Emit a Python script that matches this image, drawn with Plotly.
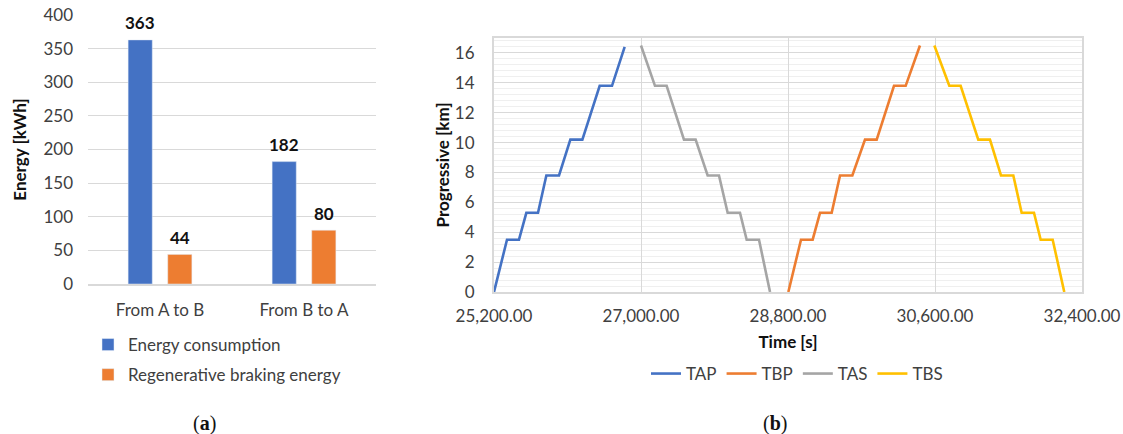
import plotly.graph_objects as go

# ---------------- data ----------------
routes = ["From A to B", "From B to A"]
energy_consumption = [363, 182]
regen_braking = [44, 80]

tap_t = [25200, 25359, 25506, 25596, 25739, 25841, 25996, 26135, 26282, 26494, 26645, 26800]
tap_km = [0, 3.5, 3.5, 5.3, 5.3, 7.8, 7.8, 10.2, 10.2, 13.8, 13.8, 16.4]

tas_t = [27000, 27171, 27314, 27526, 27669, 27816, 27955, 28061, 28212, 28294, 28445, 28580]
tas_km = [16.5, 13.8, 13.8, 10.2, 10.2, 7.8, 7.8, 5.3, 5.3, 3.5, 3.5, 0]

tbp_t = [28804, 28959, 29102, 29192, 29335, 29437, 29588, 29743, 29886, 30098, 30241, 30416]
tbp_km = [0, 3.5, 3.5, 5.3, 5.3, 7.8, 7.8, 10.2, 10.2, 13.8, 13.8, 16.5]

tbs_t = [30592, 30775, 30914, 31130, 31273, 31408, 31559, 31661, 31812, 31894, 32041, 32183]
tbs_km = [16.5, 13.8, 13.8, 10.2, 10.2, 7.8, 7.8, 5.3, 5.3, 3.5, 3.5, 0]

energy_ticks = [0, 50, 100, 150, 200, 250, 300, 350, 400]
km_ticks = [0, 2, 4, 6, 8, 10, 12, 14, 16]
time_ticks = [25200, 27000, 28800, 30600, 32400]

# ---------------- style ----------------
W, H = 1123, 434
FONT = "Lato"
FS = 17
BLUE, ORANGE, GRAY, YELLOW = "#4472C4", "#ED7D31", "#A5A5A5", "#FFC000"
GRID = "#D9D9D9"
TICKCOL = "#404040"
DARK = "#111111"

def px_x(p):
    return p / W

def px_y(p):
    return 1 - p / H

fig = go.Figure()

bar_series = [("Energy consumption", energy_consumption, BLUE, "a1", -19.75),
              ("Regenerative braking energy", regen_braking, ORANGE, "a2", 19.75)]

annotations = []
for name, vals, col, grp, shift in bar_series:
    fig.add_trace(go.Bar(
        x=routes, y=vals, name=name,
        marker=dict(color=col), xaxis="x", yaxis="y",
        legend="legend", legendgroup=grp,
    ))
    for cat, v in zip(routes, vals):
        annotations.append(dict(
            x=cat, y=v, xref="x", yref="y", text=f"<b>{v}</b>",
            showarrow=False, xanchor="center", yanchor="middle",
            xshift=shift, yshift=17,
            font=dict(family=FONT, size=FS, color=DARK),
        ))

for name, t, km, col in [("TAP", tap_t, tap_km, BLUE),
                         ("TBP", tbp_t, tbp_km, ORANGE),
                         ("TAS", tas_t, tas_km, GRAY),
                         ("TBS", tbs_t, tbs_km, YELLOW)]:
    fig.add_trace(go.Scatter(
        x=t, y=km, name=name, mode="lines",
        line=dict(color=col, width=2.6),
        xaxis="x2", yaxis="y2", legend="legend2",
    ))

annotations += [
    dict(text="(<b>a</b>)", x=px_x(204), y=px_y(423), xref="paper", yref="paper",
         xanchor="center", yanchor="middle", showarrow=False,
         font=dict(family="Liberation Serif", size=20, color=DARK)),
    dict(text="(<b>b</b>)", x=px_x(775), y=px_y(423), xref="paper", yref="paper",
         xanchor="center", yanchor="middle", showarrow=False,
         font=dict(family="Liberation Serif", size=20, color=DARK)),
]

fig.update_layout(
    width=W, height=H,
    margin=dict(l=0, r=0, t=0, b=0, autoexpand=False),
    paper_bgcolor="white", plot_bgcolor="white",
    font=dict(family=FONT, size=FS, color=TICKCOL),
    barmode="group", bargap=0.45, bargroupgap=0.39,
    xaxis=dict(
        domain=[px_x(88), px_x(376)], anchor="y", automargin=False,
        showgrid=False, showline=True, linecolor=GRID, linewidth=1.5,
        ticks="", ticklabelstandoff=10,
        tickfont=dict(family=FONT, size=FS, color=TICKCOL),
    ),
    yaxis=dict(
        domain=[px_y(284), px_y(15)], anchor="x", automargin=False,
        range=[0, 400], tickvals=energy_ticks,
        showgrid=True, gridcolor=GRID, gridwidth=1.3,
        zeroline=False, showline=False, ticks="",
        ticklabelstandoff=14,
        tickfont=dict(family=FONT, size=FS, color=TICKCOL),
        title=dict(text="<b>Energy [kWh]</b>", standoff=12,
                   font=dict(family=FONT, size=17, color=DARK)),
    ),
    xaxis2=dict(
        domain=[px_x(494), px_x(1082)], anchor="y2", automargin=False,
        range=[25200, 32400], tickvals=time_ticks, tickformat=",.2f",
        showgrid=True, gridcolor=GRID, gridwidth=1.3,
        zeroline=False, showline=True, linecolor=GRID, linewidth=2, mirror=True,
        ticks="", ticklabelstandoff=8,
        tickfont=dict(family=FONT, size=FS, color=TICKCOL),
        title=dict(text="<b>Time [s]</b>", standoff=11,
                   font=dict(family=FONT, size=17, color=DARK)),
    ),
    yaxis2=dict(
        domain=[px_y(292), px_y(38)], anchor="x2", automargin=False,
        range=[0, 17], tickvals=km_ticks,
        showgrid=True, gridcolor=GRID, gridwidth=1.3,
        minor=dict(dtick=0.4, showgrid=True, gridcolor="#EFEFEF", gridwidth=1),
        zeroline=False, showline=True, linecolor=GRID, linewidth=2, mirror=True,
        ticks="", ticklabelstandoff=14,
        tickfont=dict(family=FONT, size=FS, color=TICKCOL),
        title=dict(text="<b>Progressive [km]</b>", standoff=1,
                   font=dict(family=FONT, size=17, color=DARK)),
    ),
    legend=dict(
        x=px_x(88), y=px_y(327), xanchor="left", yanchor="top",
        orientation="v", traceorder="grouped", tracegroupgap=5,
        font=dict(family=FONT, size=FS, color=TICKCOL),
        bgcolor="rgba(0,0,0,0)",
    ),
    legend2=dict(
        x=px_x(797), y=px_y(374), xanchor="center", yanchor="middle",
        orientation="h",
        font=dict(family=FONT, size=FS, color=TICKCOL),
        bgcolor="rgba(0,0,0,0)",
    ),
    annotations=annotations,
)

fig.write_html("out.html")
